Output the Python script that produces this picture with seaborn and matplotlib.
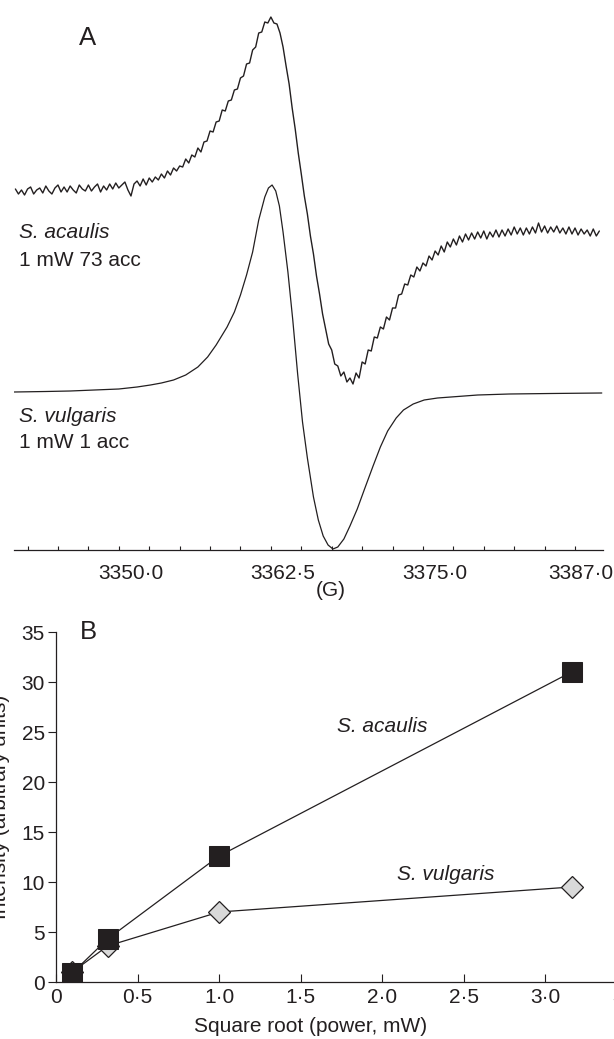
import numpy as np
import seaborn as sns
import matplotlib.pyplot as plt

sns.set_style('ticks')
plt.rcParams['font.family'] = ['Liberation Sans', 'DejaVu Sans']

acaulis_field = np.arange(3340.5, 3388.75, 0.25)  # G
acaulis_signal = [1, -4, 0, -5, 1, 3, -4, 0,
                  2, -3, 4, -1, -4, 2, 5, -2,
                  3, -2, 4, 0, -3, 5, 1, -1,
                  5, -1, 3, 6, -2, 4, 0, 6,
                  1, 7, 2, 5, 8, 0, -6, 6,
                  9, 4, 11, 5, 12, 8, 13, 10,
                  16, 12, 19, 15, 22, 19, 24, 23,
                  31, 27, 35, 33, 42, 38, 48, 49,
                  59, 58, 68, 69, 80, 79, 89, 90,
                  100, 101, 112, 114, 126, 127, 140, 143,
                  157, 158, 168, 167, 173, 167, 166, 157,
                  143, 124, 106, 82, 61, 37, 16, -6,
                  -24, -46, -64, -86, -104, -124, -139, -154,
                  -160, -174, -176, -186, -182, -192, -188, -194,
                  -183, -188, -172, -174, -160, -161, -147, -148,
                  -137, -139, -127, -130, -118, -118, -105, -104,
                  -94, -95, -85, -87, -77, -81, -73, -76,
                  -66, -70, -61, -65, -56, -62, -52, -57,
                  -49, -55, -46, -52, -44, -50, -43, -49,
                  -42, -48, -41, -49, -42, -47, -40, -47,
                  -40, -46, -39, -45, -37, -44, -38, -45,
                  -38, -44, -37, -43, -33, -42, -36, -43,
                  -37, -42, -36, -43, -38, -44, -37, -44,
                  -38, -45, -39, -44, -40, -46, -39, -46,
                  -41]

vulgaris_field = [3340.4, 3343, 3345, 3347, 3349, 3350.5, 3351.6, 3352.5, 3353.5, 3354.5,
                  3355.5, 3356.3, 3357.0, 3357.9, 3358.5, 3359.0, 3359.5, 3360.0, 3360.5, 3361.0,
                  3361.3, 3361.6, 3361.9, 3362.2, 3362.5, 3362.9, 3363.3, 3363.7, 3364.1, 3364.5,
                  3365.0, 3365.4, 3365.8, 3366.2, 3366.6, 3367.0, 3367.5, 3368.0, 3368.6, 3369.2,
                  3369.9, 3370.5, 3371.1, 3371.8, 3372.4, 3373.2, 3374.1, 3375.2, 3376.3, 3378.5,
                  3381.1, 3384.5, 3388.7]
vulgaris_signal = [0, 0.5, 1, 2, 3, 5, 7, 9, 12, 17,
                   25, 35, 47, 65, 80, 97, 117, 140, 172, 195,
                   204, 207, 201, 186, 160, 120, 72, 18, -30, -66,
                   -105, -128, -144, -153, -157, -155, -147, -134, -117, -97,
                   -74, -55, -39, -26, -18, -12, -8, -6, -5, -3,
                   -2, -1.5, -1]

field_labels = [3350.0, 3362.5, 3375.0, 3387.0]

# ---- panel B: intensity vs square root of power
sqrt_power = [0.1, 0.316, 1.0, 3.16]
acaulis_intensity = [0.9, 4.3, 12.6, 31.0]
vulgaris_intensity = [1.0, 3.6, 7.0, 9.5]

ink = '#231f20'
fs = 15
fs_panel = 18.5

fig = plt.figure(figsize=(6.14, 10.39), dpi=100)

# ---------- A ----------
axA = fig.add_axes([13.7 / 614, 489 / 1039, 589.3 / 614, 550 / 1039])
sns.lineplot(x=acaulis_field, y=np.array(acaulis_signal) + 360, ax=axA,
             color=ink, linewidth=1.0, estimator=None)
sns.lineplot(x=vulgaris_field, y=np.array(vulgaris_signal) + 158, ax=axA,
             color=ink, linewidth=0.9, estimator=None)
axA.set_xlim(3340.36, 3388.8)
axA.set_ylim(0, 550)
for s in ['top', 'right', 'left']:
    axA.spines[s].set_visible(False)
axA.spines['bottom'].set_color(ink)
axA.spines['bottom'].set_linewidth(0.9)
axA.set_yticks([])
axA.set_xticks(field_labels)
axA.set_xticklabels([f'{v:.1f}'.replace('.', '·') for v in field_labels], fontsize=fs, color=ink)
axA.set_xticks(np.arange(3341.5, 3387.0, 2.5), minor=True)
axA.tick_params(axis='x', which='major', length=0, pad=10)
axA.tick_params(axis='x', which='minor', direction='in', length=3, width=0.8, color=ink)
axA.set_xlabel('(G)', fontsize=fs, color=ink)
axA.xaxis.set_label_coords(0.538, -0.057)
axA.set_ylabel('')
fig.text(88 / 614, 1 - 38 / 1039, 'A', fontsize=fs_panel, color=ink, ha='center', va='center')
fig.text(19 / 614, 1 - 233 / 1039, 'S. acaulis', fontsize=fs, style='italic', color=ink, va='center')
fig.text(19 / 614, 1 - 260 / 1039, '1 mW 73 acc', fontsize=fs, color=ink, va='center')
fig.text(19 / 614, 1 - 417 / 1039, 'S. vulgaris', fontsize=fs, style='italic', color=ink, va='center')
fig.text(19 / 614, 1 - 443 / 1039, '1 mW 1 acc', fontsize=fs, color=ink, va='center')

# ---------- B ----------
axB = fig.add_axes([56 / 614, 57 / 1039, 571 / 614, 350 / 1039])
sns.lineplot(x=sqrt_power, y=vulgaris_intensity, ax=axB, color=ink, linewidth=0.9,
             marker='D', markersize=11, markerfacecolor='#d9d9d9', markeredgecolor=ink,
             markeredgewidth=0.9, estimator=None)
sns.lineplot(x=sqrt_power, y=acaulis_intensity, ax=axB, color=ink, linewidth=0.9,
             marker='s', markersize=14, markerfacecolor=ink, markeredgecolor=ink,
             estimator=None)
axB.set_xlim(0, 3.5)
axB.set_ylim(0, 35)
xt = np.arange(0, 3.51, 0.5)
axB.set_xticks(xt)
axB.set_xticklabels(['0'] + [f'{v:.1f}'.replace('.', '·') for v in xt[1:]], fontsize=fs, color=ink)
axB.set_yticks(np.arange(0, 36, 5))
axB.set_yticklabels([str(v) for v in range(0, 36, 5)], fontsize=fs, color=ink)
axB.tick_params(axis='x', direction='in', length=6, width=0.8, color=ink, pad=4)
axB.tick_params(axis='y', direction='out', length=6, width=0.8, color=ink, pad=2)
for s in ['top', 'right']:
    axB.spines[s].set_visible(False)
for s in ['left', 'bottom']:
    axB.spines[s].set_color(ink)
    axB.spines[s].set_linewidth(0.9)
axB.set_xlabel('Square root (power, mW)', fontsize=fs, color=ink)
axB.xaxis.set_label_coords(0.445, -0.1)
axB.set_ylabel('Intensity (arbitrary units)', fontsize=fs, color=ink)
axB.yaxis.set_label_coords(-0.08, 0.5)
axB.text(2.0, 25.5, 'S. acaulis', fontsize=fs, style='italic', color=ink, ha='center', va='center')
axB.text(2.39, 10.7, 'S. vulgaris', fontsize=fs, style='italic', color=ink, ha='center', va='center')
fig.text(88 / 614, 1 - 632 / 1039, 'B', fontsize=fs_panel, color=ink, ha='center', va='center')

fig.savefig('out.png', dpi=100)
